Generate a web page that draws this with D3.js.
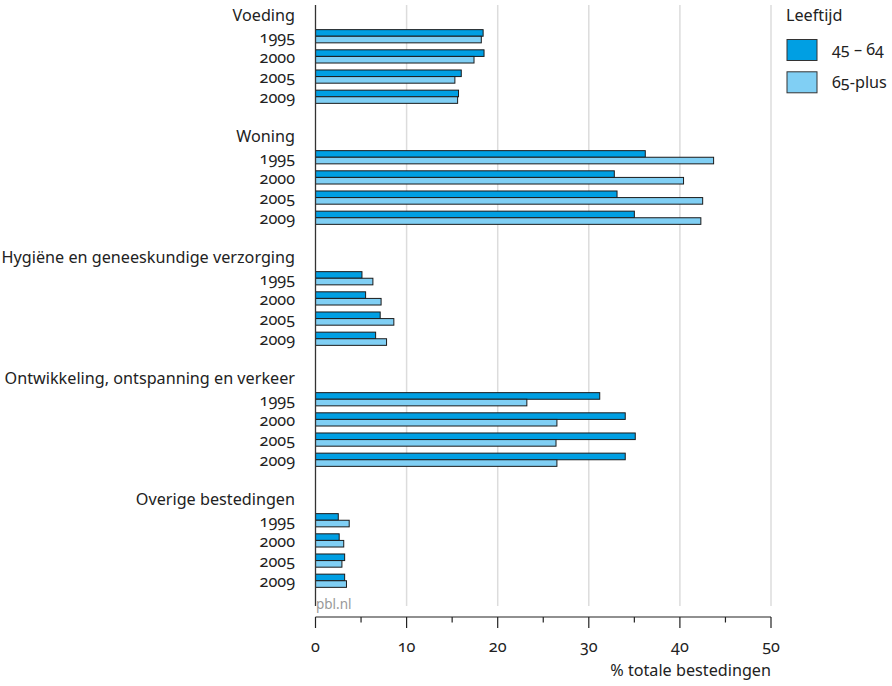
<!DOCTYPE html>
<html><head><meta charset="utf-8">
<script src="https://cdn.jsdelivr.net/npm/d3@7"></script>
<style>
body{margin:0;background:#fff;}
text{font-family:"Noto Sans",sans-serif;font-feature-settings:"onum" 1;fill:#222;}
</style></head><body>
<svg id="c" width="892" height="686"></svg>
<script>
const categories = ["Voeding","Woning","Hygiëne en geneeskundige verzorging","Ontwikkeling, ontspanning en verkeer","Overige bestedingen"];
const years = ["1995","2000","2005","2009"];
const seriesNames = ["45 – 64","65-plus"];
const values45_64 = [
  [18.4,18.5,16.0,15.7],
  [36.2,32.8,33.1,35.0],
  [5.1,5.5,7.1,6.6],
  [31.2,34.0,35.1,34.0],
  [2.5,2.6,3.2,3.2]
];
const values65plus = [
  [18.2,17.4,15.3,15.6],
  [43.7,40.4,42.5,42.3],
  [6.3,7.2,8.6,7.8],
  [23.2,26.5,26.4,26.5],
  [3.7,3.1,2.9,3.4]
];
const xTicks = [0,10,20,30,40,50];
const xMinorTicks = [5,15,25,35,45];
const xTitle = "% totale bestedingen";
const legendTitle = "Leeftijd";
const source = "pbl.nl";
const colors = ["#009fe3","#80cff4"];

const svg = d3.select("#c");
const x = d3.scaleLinear().domain([0,50]).range([315.5,771]);
const rows = [];
categories.forEach((c,ci)=>{
  rows.push({key:c+"|label",type:"label",text:c});
  years.forEach((y,yi)=>rows.push({key:c+"|"+y,type:"year",text:y,ci,yi}));
  rows.push({key:c+"|blank",type:"blank"});
});
const y = d3.scaleBand().domain(rows.map(r=>r.key)).range([6,611]);
const barH = 6.6;
const fs = 16.2;

svg.append("g").selectAll("line").data(xTicks.slice(1)).join("line")
  .attr("x1",d=>x(d)).attr("x2",d=>x(d)).attr("y1",5).attr("y2",606)
  .attr("stroke","#dcdcdc").attr("stroke-width",1.5);

svg.append("g").selectAll("text").data(rows.filter(r=>r.type!=="blank")).join("text")
  .attr("x",295).attr("y",d=>y(d.key)+y.bandwidth()/2+(d.type==="year"?2:1))
  .attr("text-anchor","end").attr("dominant-baseline","middle")
  .attr("font-size",fs).text(d=>d.text);

const barData = [];
rows.filter(r=>r.type==="year").forEach(r=>{
  barData.push({key:r.key,s:0,v:values45_64[r.ci][r.yi]});
  barData.push({key:r.key,s:1,v:values65plus[r.ci][r.yi]});
});
svg.append("g").selectAll("rect").data(barData).join("rect")
  .attr("x",x(0)).attr("width",d=>x(d.v)-x(0))
  .attr("y",d=>y(d.key)+y.bandwidth()/2-barH+d.s*barH).attr("height",barH)
  .attr("fill",d=>colors[d.s]).attr("stroke","#1a1a1a").attr("stroke-width",1);

svg.append("line").attr("x1",315.5).attr("x2",315.5).attr("y1",5).attr("y2",606)
  .attr("stroke","#333").attr("stroke-width",1.3);

svg.append("text").attr("x",316).attr("y",609).attr("font-size",13.5).style("fill","#999").text(source);

const ax = svg.append("g").attr("transform","translate(0,617)");
ax.append("line").attr("x1",x(0)).attr("x2",x(50)).attr("stroke","#222").attr("stroke-width",1.2);
ax.selectAll(".maj").data(xTicks).join("line").attr("class","maj")
  .attr("x1",d=>x(d)).attr("x2",d=>x(d)).attr("y1",0).attr("y2",11).attr("stroke","#222").attr("stroke-width",1.2);
ax.selectAll(".min").data(xMinorTicks).join("line").attr("class","min")
  .attr("x1",d=>x(d)).attr("x2",d=>x(d)).attr("y1",0).attr("y2",5.5).attr("stroke","#222").attr("stroke-width",1.2);
ax.selectAll("text").data(xTicks).join("text")
  .attr("x",d=>x(d)).attr("y",31).attr("text-anchor","middle").attr("dominant-baseline","middle")
  .attr("font-size",fs).text(d=>d);
svg.append("text").attr("x",771).attr("y",672).attr("text-anchor","end").attr("dominant-baseline","middle")
  .attr("font-size",fs).text(xTitle);

svg.append("text").attr("x",786).attr("y",17).attr("dominant-baseline","middle").attr("font-size",fs).text(legendTitle);
const lg = svg.append("g").selectAll("g").data(seriesNames).join("g")
  .attr("transform",(d,i)=>`translate(787,${39.5+i*32.3})`);
lg.append("rect").attr("width",30).attr("height",21).attr("fill",(d,i)=>colors[i]).attr("stroke","#333").attr("stroke-width",1);
lg.append("text").attr("x",45).attr("y",11.5).attr("dominant-baseline","middle").attr("font-size",fs).text(d=>d);
</script>
</body></html>
